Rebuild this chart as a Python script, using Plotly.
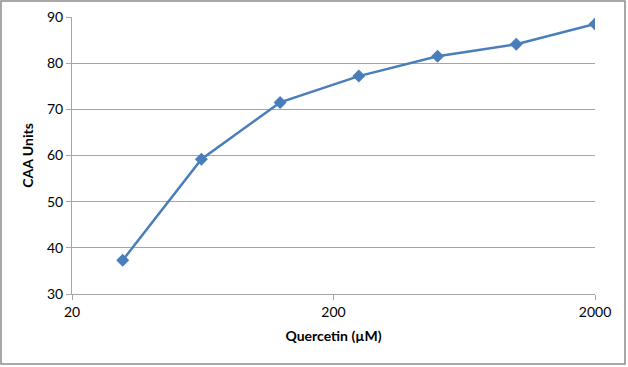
import plotly.graph_objects as go

conc = [31.25, 62.5, 125, 250, 500, 1000, 2000]
caa = [37.3, 59.2, 71.5, 77.2, 81.5, 84.1, 88.5]
x_ticks = [20, 200, 2000]
y_ticks = [30, 40, 50, 60, 70, 80, 90]

W, H = 628, 367
L, R, T, B = 72, 33, 17, 73
pw, ph = W - L - R, H - T - B

fig = go.Figure()
fig.add_trace(go.Scatter(
    x=conc, y=caa, mode="lines+markers",
    line=dict(color="#4A7EBB", width=2.5),
    marker=dict(symbol="diamond", size=10, color="#4A7EBB"),
))

font = dict(family="Lato, Open Sans, sans-serif", size=14, color="#000000")
fig.update_layout(
    width=W, height=H,
    margin=dict(l=L, r=R, t=T, b=B, autoexpand=False),
    paper_bgcolor="white", plot_bgcolor="white",
    showlegend=False, font=font,
    xaxis=dict(
        type="log", range=[1.30103, 3.30103], automargin=False,
        tickvals=x_ticks, ticktext=[str(v) for v in x_ticks],
        showgrid=False, showline=True, linecolor="#A6A6A6", linewidth=1,
        ticks="outside", ticklen=5, tickcolor="#A6A6A6",
        zeroline=False,
        title=dict(text="<b>Quercetin (µM)</b>", font=dict(size=14), standoff=12),
    ),
    yaxis=dict(
        range=[30, 90], tickvals=y_ticks, automargin=False,
        showgrid=True, gridcolor="#A6A6A6", gridwidth=1,
        showline=True, linecolor="#A6A6A6", linewidth=1,
        ticks="outside", ticklen=5, tickcolor="#A6A6A6",
        zeroline=False,
        title=dict(text="<b>CAA Units</b>", font=dict(size=14), standoff=10),
    ),
    shapes=[dict(
        type="rect", xref="paper", yref="paper",
        x0=(1 - L) / pw, x1=(625 - L) / pw,
        y0=(H - B - 364) / ph, y1=(H - B - 1) / ph,
        line=dict(color="#8C8C8C", width=1.5), fillcolor="rgba(0,0,0,0)",
    )],
)

fig.write_html("out.html")
